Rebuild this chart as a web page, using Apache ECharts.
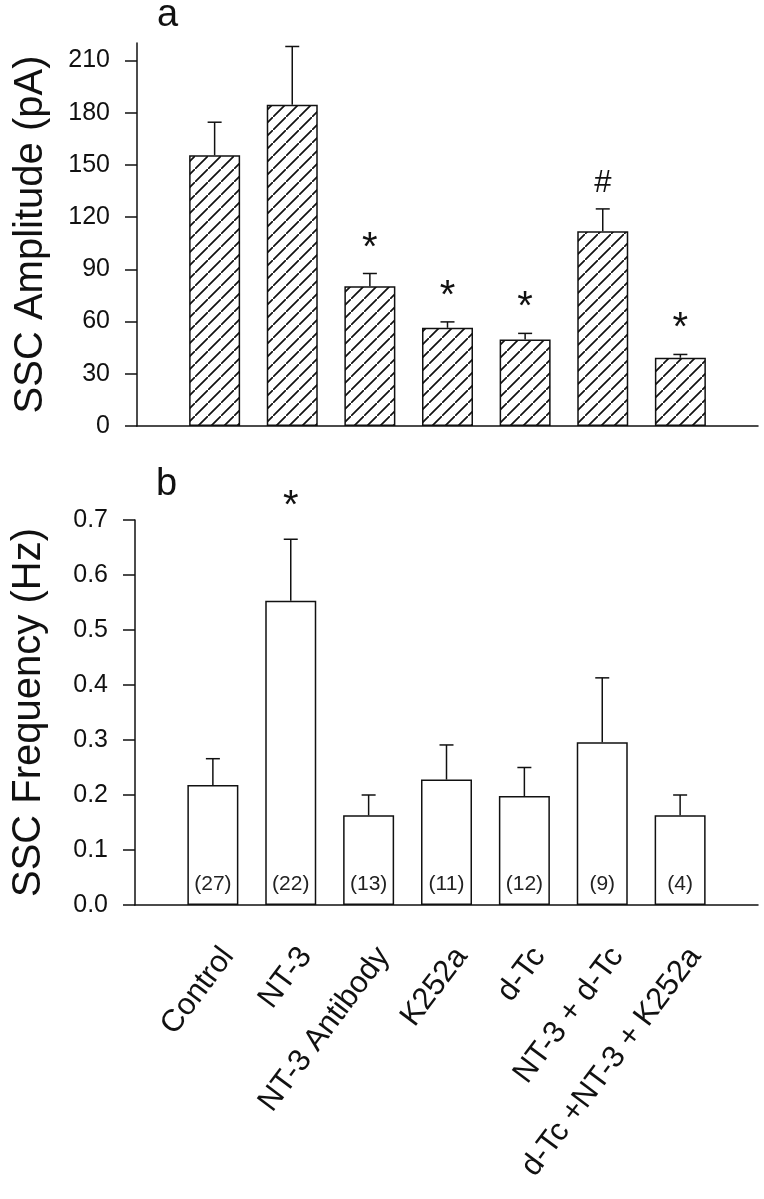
<!DOCTYPE html>
<html><head><meta charset="utf-8">
<script src="https://cdn.jsdelivr.net/npm/echarts@6/dist/echarts.min.js"></script>
<style>html,body{margin:0;padding:0;background:#fff}#c{width:764px;height:1199px}</style>
</head><body><div id="c"></div>
<script>
const categories = ['Control', 'NT-3', 'NT-3 Antibody', 'K252a', 'd-Tc', 'NT-3 + d-Tc', 'd-Tc +NT-3 + K252a'];
const amplitude = [155.5, 184.6, 80.3, 56.4, 49.7, 111.9, 39.2];
const amplitudeErrTop = [174.5, 218, 87.6, 59.8, 53.2, 124.7, 41.1];
const amplitudeMarks = ['', '', '*', '*', '*', '#', '*'];
const frequency = [0.218, 0.553, 0.163, 0.228, 0.198, 0.296, 0.163];
const frequencyErrTop = [0.266, 0.665, 0.200, 0.291, 0.250, 0.413, 0.200];
const frequencyMarks = ['', '*', '', '', '', '', ''];
const cellCounts = ['(27)', '(22)', '(13)', '(11)', '(12)', '(9)', '(4)'];
const ampTicks = [0, 30, 60, 90, 120, 150, 180, 210];
const freqTicks = [0, 0.1, 0.2, 0.3, 0.4, 0.5, 0.6, 0.7];

const FONT = '"Liberation Sans", Arial, Helvetica, sans-serif';
const INK = '#111';

// hatch pattern
const T = 13;
const tile = document.createElement('canvas');
tile.width = T; tile.height = T;
const g = tile.getContext('2d');
g.fillStyle = '#fff'; g.fillRect(0, 0, T, T);
g.strokeStyle = INK; g.lineWidth = 1.7;
g.beginPath();
g.moveTo(-2, T + 2); g.lineTo(T + 2, -2);
g.moveTo(-T - 2, 2); g.lineTo(2, -T - 2);
g.moveTo(T - 2, 2 * T + 2); g.lineTo(2 * T + 2, T - 2);
g.stroke();

const xPos = categories.map((c, i) => i + 1);

function errRender(marks, markGap, markSize) {
  return function (params, api) {
    const x = api.value(0), v = api.value(1), e = api.value(2), k = api.value(3);
    const p0 = api.coord([x, v]);
    const p1 = api.coord([x, e]);
    const children = [
      { type: 'line', shape: { x1: p0[0], y1: p0[1], x2: p1[0], y2: p1[1] }, style: { stroke: INK, lineWidth: 1.5 } },
      { type: 'line', shape: { x1: p1[0] - 7, y1: p1[1], x2: p1[0] + 7, y2: p1[1] }, style: { stroke: INK, lineWidth: 1.5 } }
    ];
    const m = marks[k];
    if (m) {
      children.push({ type: 'text', x: p1[0], y: p1[1] - markGap,
        style: { text: m, fill: INK, font: (m === '#' ? 31 : markSize) + 'px ' + FONT, align: 'center', verticalAlign: 'middle' } });
    }
    return { type: 'group', children };
  };
}

const chart = echarts.init(document.getElementById('c'), null, { renderer: 'canvas' });
const yAxisCommon = {
  type: 'value',
  splitLine: { show: false },
  axisLine: { show: true, lineStyle: { color: INK, width: 1.5 } },
  axisTick: { show: true, inside: false, length: 12, lineStyle: { color: INK, width: 1.5 } },
  axisLabel: { color: INK, fontSize: 25, fontFamily: FONT, margin: 27 },
  nameLocation: 'middle', nameRotate: 90,
  nameTextStyle: { color: INK, fontSize: 40, fontFamily: FONT }
};
const xAxisCommon = {
  type: 'value', min: 0, max: 8,
  splitLine: { show: false },
  axisLine: { show: true, lineStyle: { color: INK, width: 1.5 } },
  axisTick: { show: false }, axisLabel: { show: false }
};

chart.setOption({
  backgroundColor: '#fff',
  animation: false,
  title: [
    { text: 'a', left: 152, top: -8, textStyle: { fontSize: 38, fontWeight: 'normal', color: INK, fontFamily: FONT } },
    { text: 'b', left: 151, top: 461, textStyle: { fontSize: 38, fontWeight: 'normal', color: INK, fontFamily: FONT } }
  ],
  grid: [
    { left: 137, right: 6, top: 43, height: 383 },
    { left: 135, right: 6, top: 520, height: 385 }
  ],
  xAxis: [
    Object.assign({ gridIndex: 0 }, xAxisCommon),
    Object.assign({ gridIndex: 1 }, xAxisCommon)
  ],
  yAxis: [
    Object.assign({}, yAxisCommon, {
      gridIndex: 0, min: 0, max: 220, name: 'SSC Amplitude (pA)', nameGap: 86,
      axisLabel: Object.assign({}, yAxisCommon.axisLabel, { customValues: ampTicks }),
      axisTick: Object.assign({}, yAxisCommon.axisTick, { customValues: ampTicks })
    }),
    Object.assign({}, yAxisCommon, {
      gridIndex: 1, min: 0, max: 0.7, interval: 0.1, name: 'SSC Frequency (Hz)', nameGap: 86,
      axisLabel: Object.assign({}, yAxisCommon.axisLabel, { customValues: freqTicks, formatter: v => v.toFixed(1) }),
      axisTick: Object.assign({}, yAxisCommon.axisTick, { customValues: freqTicks })
    })
  ],
  series: [
    {
      type: 'bar', xAxisIndex: 0, yAxisIndex: 0, barWidth: 51,
      data: amplitude.map((v, i) => [xPos[i], v]),
      itemStyle: { color: { image: tile, repeat: 'repeat' }, borderColor: INK, borderWidth: 1.5 }
    },
    {
      type: 'custom', xAxisIndex: 0, yAxisIndex: 0, clip: false, z: 5,
      data: amplitude.map((v, i) => [xPos[i], v, amplitudeErrTop[i], i]),
      renderItem: errRender(amplitudeMarks, 25, 40)
    },
    {
      type: 'bar', xAxisIndex: 1, yAxisIndex: 1, barWidth: 51,
      data: frequency.map((v, i) => [xPos[i], v]),
      itemStyle: { color: '#fff', borderColor: INK, borderWidth: 1.5 },
      label: {
        show: true, position: 'insideBottom', distance: 10, color: '#222', fontSize: 21, fontFamily: FONT,
        formatter: p => cellCounts[p.dataIndex]
      }
    },
    {
      type: 'custom', xAxisIndex: 1, yAxisIndex: 1, clip: false, z: 5,
      data: frequency.map((v, i) => [xPos[i], v, frequencyErrTop[i], i]),
      renderItem: errRender(frequencyMarks, 32, 40)
    },
    {
      type: 'custom', xAxisIndex: 1, yAxisIndex: 1, clip: false, z: 5,
      data: categories.map((c, i) => [xPos[i], 0, i]),
      renderItem: function (params, api) {
        const p = api.coord([api.value(0), 0]);
        return {
          type: 'text', x: p[0] + 15, y: p[1] + 46, rotation: 53 * Math.PI / 180,
          style: { text: categories[api.value(2)], fill: INK, font: '31px ' + FONT, align: 'right', verticalAlign: 'middle' }
        };
      }
    }
  ]
});
</script>
</body></html>
